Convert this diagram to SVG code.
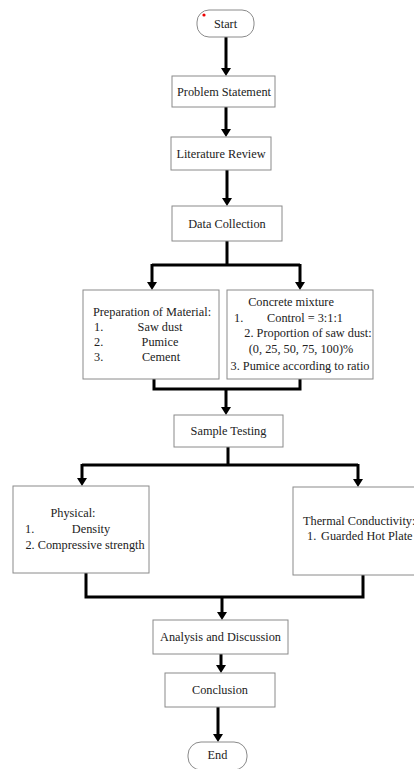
<svg xmlns="http://www.w3.org/2000/svg" width="414" height="769" viewBox="0 0 414 769">
<style>
.box{fill:#fff;stroke:#8a8a8a;stroke-width:1}
.t{font-family:"Liberation Serif","Times New Roman",serif;font-size:12.3px;fill:#222}
.c{text-anchor:middle}
.conn{fill:none;stroke:#000;stroke-width:3}
</style>
<defs>
<marker id="ah" viewBox="0 0 8 10" refX="1" refY="5" markerWidth="8" markerHeight="10" markerUnits="userSpaceOnUse" orient="auto">
<path d="M0,0 L8,5 L0,10 z" fill="#000"/>
</marker>
</defs>
<rect width="414" height="769" fill="#fff"/>
<g id="connectors">
<path class="conn" d="M226,37 V69" marker-end="url(#ah)"/>
<path class="conn" d="M226,107 V130" marker-end="url(#ah)"/>
<path class="conn" d="M227,170 V199" marker-end="url(#ah)"/>
<path class="conn" d="M227,241 V265 M152,265 H300"/>
<path class="conn" d="M152,264 V283" marker-end="url(#ah)"/>
<path class="conn" d="M300,264 V283" marker-end="url(#ah)"/>
<path class="conn" d="M154,379 V389 H300 V379"/>
<path class="conn" d="M226,389 V408" marker-end="url(#ah)"/>
<path class="conn" d="M228,447 V465 M82,465 H358"/>
<path class="conn" d="M82,464 V479" marker-end="url(#ah)"/>
<path class="conn" d="M358,464 V480" marker-end="url(#ah)"/>
<path class="conn" d="M86,573 V597 H363 V575"/>
<path class="conn" d="M222,597 V613" marker-end="url(#ah)"/>
<path class="conn" d="M221,654 V666" marker-end="url(#ah)"/>
<path class="conn" d="M218,707 V735" marker-end="url(#ah)"/>
</g>
<g id="start">
<rect class="box" x="197" y="10" width="57" height="27" rx="12"/>
<circle cx="204" cy="15" r="1.6" fill="#e00"/>
<text class="t c" x="225.5" y="28">Start</text>
</g>
<g id="problem">
<rect class="box" x="172" y="76" width="103" height="31"/>
<text class="t c" x="224" y="95.5">Problem Statement</text>
</g>
<g id="literature">
<rect class="box" x="171" y="137" width="100" height="33"/>
<text class="t c" x="221" y="157.5">Literature Review</text>
</g>
<g id="data">
<rect class="box" x="172" y="206" width="110" height="35"/>
<text class="t c" x="227" y="228">Data Collection</text>
</g>
<g id="preparation">
<rect class="box" x="83" y="290" width="136" height="89"/>
<text class="t c" x="152" y="316">Preparation of Material:</text>
<text class="t" x="94" y="331">1.</text>
<text class="t c" x="160" y="331">Saw dust</text>
<text class="t" x="94" y="346">2.</text>
<text class="t c" x="160" y="346">Pumice</text>
<text class="t" x="94" y="361">3.</text>
<text class="t c" x="161" y="361">Cement</text>
</g>
<g id="mixture">
<rect class="box" x="227" y="290" width="146" height="89"/>
<text class="t c" x="291" y="306">Concrete mixture</text>
<text class="t" x="234" y="322">1.</text>
<text class="t c" x="305" y="322">Control = 3:1:1</text>
<text class="t c" x="308" y="337">2. Proportion of saw dust:</text>
<text class="t c" x="301" y="353">(0, 25, 50, 75, 100)%</text>
<text class="t c" x="300" y="370">3. Pumice according to ratio</text>
</g>
<g id="sample">
<rect class="box" x="174" y="415" width="109" height="32"/>
<text class="t c" x="228.5" y="435">Sample Testing</text>
</g>
<g id="physical">
<rect class="box" x="13" y="486" width="136" height="87"/>
<text class="t c" x="73" y="517">Physical:</text>
<text class="t" x="25" y="533">1.</text>
<text class="t c" x="91" y="533">Density</text>
<text class="t c" x="85" y="549">2. Compressive strength</text>
</g>
<g id="thermal">
<rect class="box" x="293" y="487" width="130" height="88"/>
<text class="t" x="303" y="525">Thermal Conductivity:</text>
<text class="t" x="307" y="540">1.</text>
<text class="t" x="321" y="540">Guarded Hot Plate</text>
</g>
<g id="analysis">
<rect class="box" x="153" y="620" width="135" height="34"/>
<text class="t c" x="220.5" y="641">Analysis and Discussion</text>
</g>
<g id="conclusion">
<rect class="box" x="165" y="673" width="110" height="34"/>
<text class="t c" x="220" y="694">Conclusion</text>
</g>
<g id="end">
<rect class="box" x="188" y="742" width="59" height="28" rx="13"/>
<text class="t c" x="217.5" y="759">End</text>
</g>
</svg>
